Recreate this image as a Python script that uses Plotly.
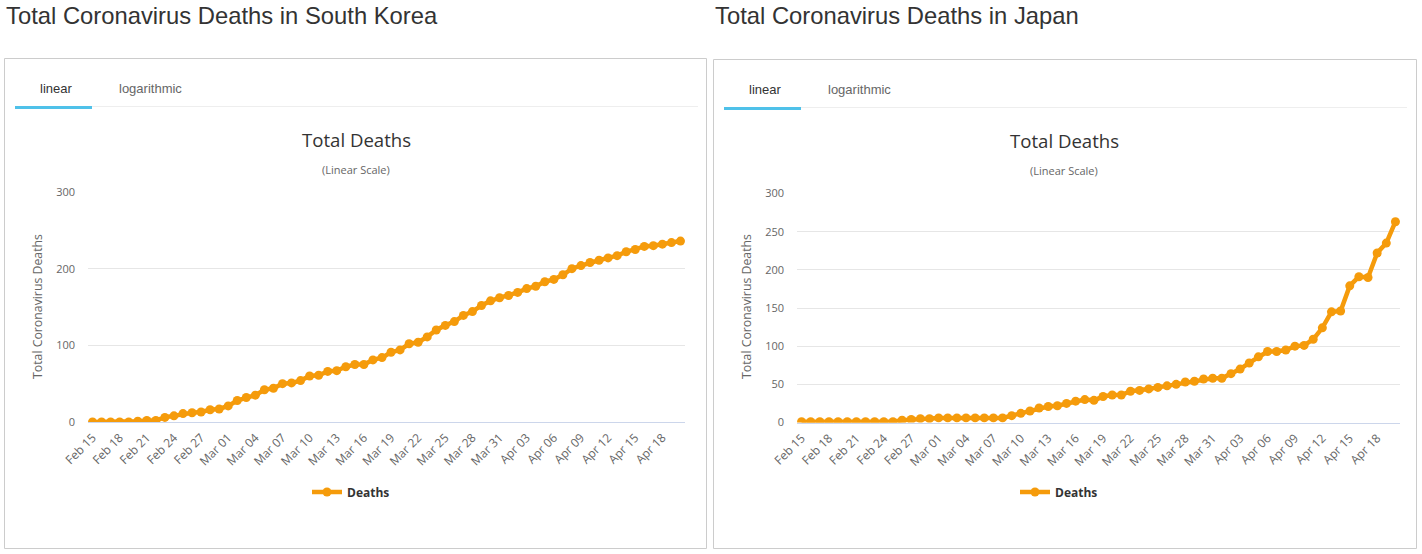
import plotly.graph_objects as go

W, H = 1422, 554

dates = ["Feb 15", "Feb 16", "Feb 17", "Feb 18", "Feb 19", "Feb 20", "Feb 21", "Feb 22", "Feb 23", "Feb 24",
         "Feb 25", "Feb 26", "Feb 27", "Feb 28", "Feb 29", "Mar 01", "Mar 02", "Mar 03", "Mar 04", "Mar 05",
         "Mar 06", "Mar 07", "Mar 08", "Mar 09", "Mar 10", "Mar 11", "Mar 12", "Mar 13", "Mar 14", "Mar 15",
         "Mar 16", "Mar 17", "Mar 18", "Mar 19", "Mar 20", "Mar 21", "Mar 22", "Mar 23", "Mar 24", "Mar 25",
         "Mar 26", "Mar 27", "Mar 28", "Mar 29", "Mar 30", "Mar 31", "Apr 01", "Apr 02", "Apr 03", "Apr 04",
         "Apr 05", "Apr 06", "Apr 07", "Apr 08", "Apr 09", "Apr 10", "Apr 11", "Apr 12", "Apr 13", "Apr 14",
         "Apr 15", "Apr 16", "Apr 17", "Apr 18", "Apr 19", "Apr 20"]

tick_labels = ["Feb 15", "Feb 18", "Feb 21", "Feb 24", "Feb 27", "Mar 01", "Mar 04", "Mar 07", "Mar 10",
               "Mar 13", "Mar 16", "Mar 19", "Mar 22", "Mar 25", "Mar 28", "Mar 31", "Apr 03", "Apr 06",
               "Apr 09", "Apr 12", "Apr 15", "Apr 18"]

korea_deaths = [0, 0, 0, 0, 0, 1, 2, 2, 6, 8, 11, 12, 13, 16, 17, 21, 28, 32, 35, 42,
                44, 50, 51, 54, 60, 61, 66, 67, 72, 75, 75, 81, 84, 91, 94, 102, 104, 111, 120, 126,
                131, 139, 144, 152, 158, 162, 165, 169, 174, 177, 183, 186, 192, 200, 204, 208, 211, 214, 217, 222,
                225, 229, 230, 232, 234, 236]

japan_deaths = [1, 1, 1, 1, 1, 1, 1, 1, 1, 1, 1, 3, 4, 5, 5, 6, 6, 6, 6, 6,
                6, 6, 6, 9, 12, 15, 19, 21, 22, 25, 28, 30, 29, 34, 36, 36, 41, 42, 44, 46,
                48, 50, 53, 54, 57, 58, 58, 64, 70, 78, 86, 93, 93, 95, 100, 101, 109, 124, 145, 146,
                179, 191, 190, 222, 235, 263]

korea_yticks = [0, 100, 200, 300]
japan_yticks = [0, 50, 100, 150, 200, 250, 300]

ORANGE = "#F59B0B"
GRID = "#e6e6e6"
TXT = "#666666"
SANS = "Liberation Sans, Arial, sans-serif"
CHART = "Open Sans, sans-serif"


def px(x):
    return x / W


def py(y):
    return 1 - y / H


fig = go.Figure()

panels = [
    dict(name="South Korea", vals=korea_deaths, yt=korea_yticks, ox=0, plot=(88, 685), y0=422, y1=192,
         xa="x", ya="y", lg="legend", cx=356, lx=351),
    dict(name="Japan", vals=japan_deaths, yt=japan_yticks, ox=709, plot=(797, 1400), y0=422.5, y1=193.5,
         xa="x2", ya="y2", lg="legend2", cx=1064, lx=1059),
]

annotations = []
shapes = []
layout_axes = {}

for i, p in enumerate(panels):
    ox = p["ox"]
    fig.add_trace(go.Scatter(
        x=dates, y=p["vals"], mode="lines+markers", name="<b>Deaths</b>",
        line=dict(color=ORANGE, width=4.5), marker=dict(color=ORANGE, size=9),
        xaxis=p["xa"], yaxis=p["ya"], legend=p["lg"], hoverinfo="skip"))

    suffix = "" if i == 0 else "2"
    layout_axes["xaxis" + suffix] = dict(
        domain=[px(p["plot"][0]), px(p["plot"][1])], anchor=p["ya"], type="category",
        range=[-0.5, len(dates) - 0.5], tickmode="array", tickvals=tick_labels, ticktext=tick_labels,
        tickangle=-45, tickfont=dict(family=CHART, size=12, color=TXT), ticklabelstandoff=3,
        showgrid=False, showline=True, linecolor="#ccd6eb", linewidth=1, ticks="", zeroline=False,
        fixedrange=True, automargin=False)
    layout_axes["yaxis" + suffix] = dict(
        domain=[py(p["y0"]), py(p["y1"])], anchor=p["xa"], range=[0, 300], tickvals=p["yt"],
        tickfont=dict(family=CHART, size=11, color=TXT), showgrid=True, gridcolor=GRID,
        gridwidth=1, zeroline=False, showline=False, ticks="", ticklabelstandoff=12, fixedrange=True,
        automargin=False)

    # page title
    annotations.append(dict(text=f"Total Coronavirus Deaths in {p['name']}", x=px(ox + 4), y=py(16),
                            xref="paper", yref="paper", xanchor="left", yanchor="middle", showarrow=False,
                            font=dict(family=SANS, size=23.8, color="#333333")))
    # box
    bx0, bx1 = (4.5, 706.5) if i == 0 else (713.5, 1416.5)
    by0 = 58.5 if i == 0 else 59.5
    shapes.append(dict(type="rect", xref="paper", yref="paper", x0=px(bx0), x1=px(bx1), y0=py(548.5), y1=py(by0),
                       line=dict(color="#cccccc", width=1), fillcolor="rgba(0,0,0,0)", layer="below"))
    # tabs
    dy = 0 if i == 0 else 1
    tx = 15 if i == 0 else 724
    annotations.append(dict(text="linear", x=px(tx + 41), y=py(88 + dy), xref="paper", yref="paper",
                            xanchor="center", yanchor="middle", showarrow=False,
                            font=dict(family=SANS, size=13, color="#333333")))
    annotations.append(dict(text="logarithmic", x=px(tx + 135), y=py(88 + dy), xref="paper", yref="paper",
                            xanchor="center", yanchor="middle", showarrow=False,
                            font=dict(family=SANS, size=13, color="#666666")))
    shapes.append(dict(type="line", xref="paper", yref="paper", x0=px(tx), x1=px(tx + 683), y0=py(106.5 + dy),
                       y1=py(106.5 + dy), line=dict(color="#eeeeee", width=1)))
    shapes.append(dict(type="line", xref="paper", yref="paper", x0=px(tx), x1=px(tx + 77), y0=py(107.5 + dy),
                       y1=py(107.5 + dy), line=dict(color="#4FC1E9", width=3)))
    # chart title / subtitle
    cx = p["cx"]
    annotations.append(dict(text="Total Deaths", x=px(cx), y=py(139 + dy), xref="paper", yref="paper",
                            xanchor="center", yanchor="middle", showarrow=False,
                            font=dict(family=CHART, size=18.6, color="#333333")))
    annotations.append(dict(text="(Linear Scale)", x=px(cx), y=py(170 + dy), xref="paper", yref="paper",
                            xanchor="center", yanchor="middle", showarrow=False,
                            font=dict(family=CHART, size=11, color=TXT)))
    # y axis title
    annotations.append(dict(text="Total Coronavirus Deaths", x=px(ox + 37), y=py(307), xref="paper", yref="paper",
                            xanchor="center", yanchor="middle", showarrow=False, textangle=-90,
                            font=dict(family=CHART, size=12.3, color=TXT)))

legend_common = dict(orientation="h", xanchor="center", yanchor="middle", bgcolor="rgba(0,0,0,0)",
                     font=dict(family=CHART, size=12, color="#333333"), itemwidth=30)

fig.update_layout(
    width=W, height=H, margin=dict(l=0, r=0, t=0, b=0, pad=0, autoexpand=False),
    paper_bgcolor="white", plot_bgcolor="white",
    showlegend=True, annotations=annotations, shapes=shapes,
    legend=dict(x=px(panels[0]["lx"]), y=py(492), **legend_common),
    legend2=dict(x=px(panels[1]["lx"]), y=py(492), **legend_common),
    **layout_axes)

fig.write_html("out.html", config={"displayModeBar": False, "staticPlot": True})

with open("out.html", "r", encoding="utf-8") as f:
    html = f.read()
html = html.replace("<head>", "<head><style>html,body{margin:0;padding:0;overflow:hidden;}</style>", 1)
with open("out.html", "w", encoding="utf-8") as f:
    f.write(html)
